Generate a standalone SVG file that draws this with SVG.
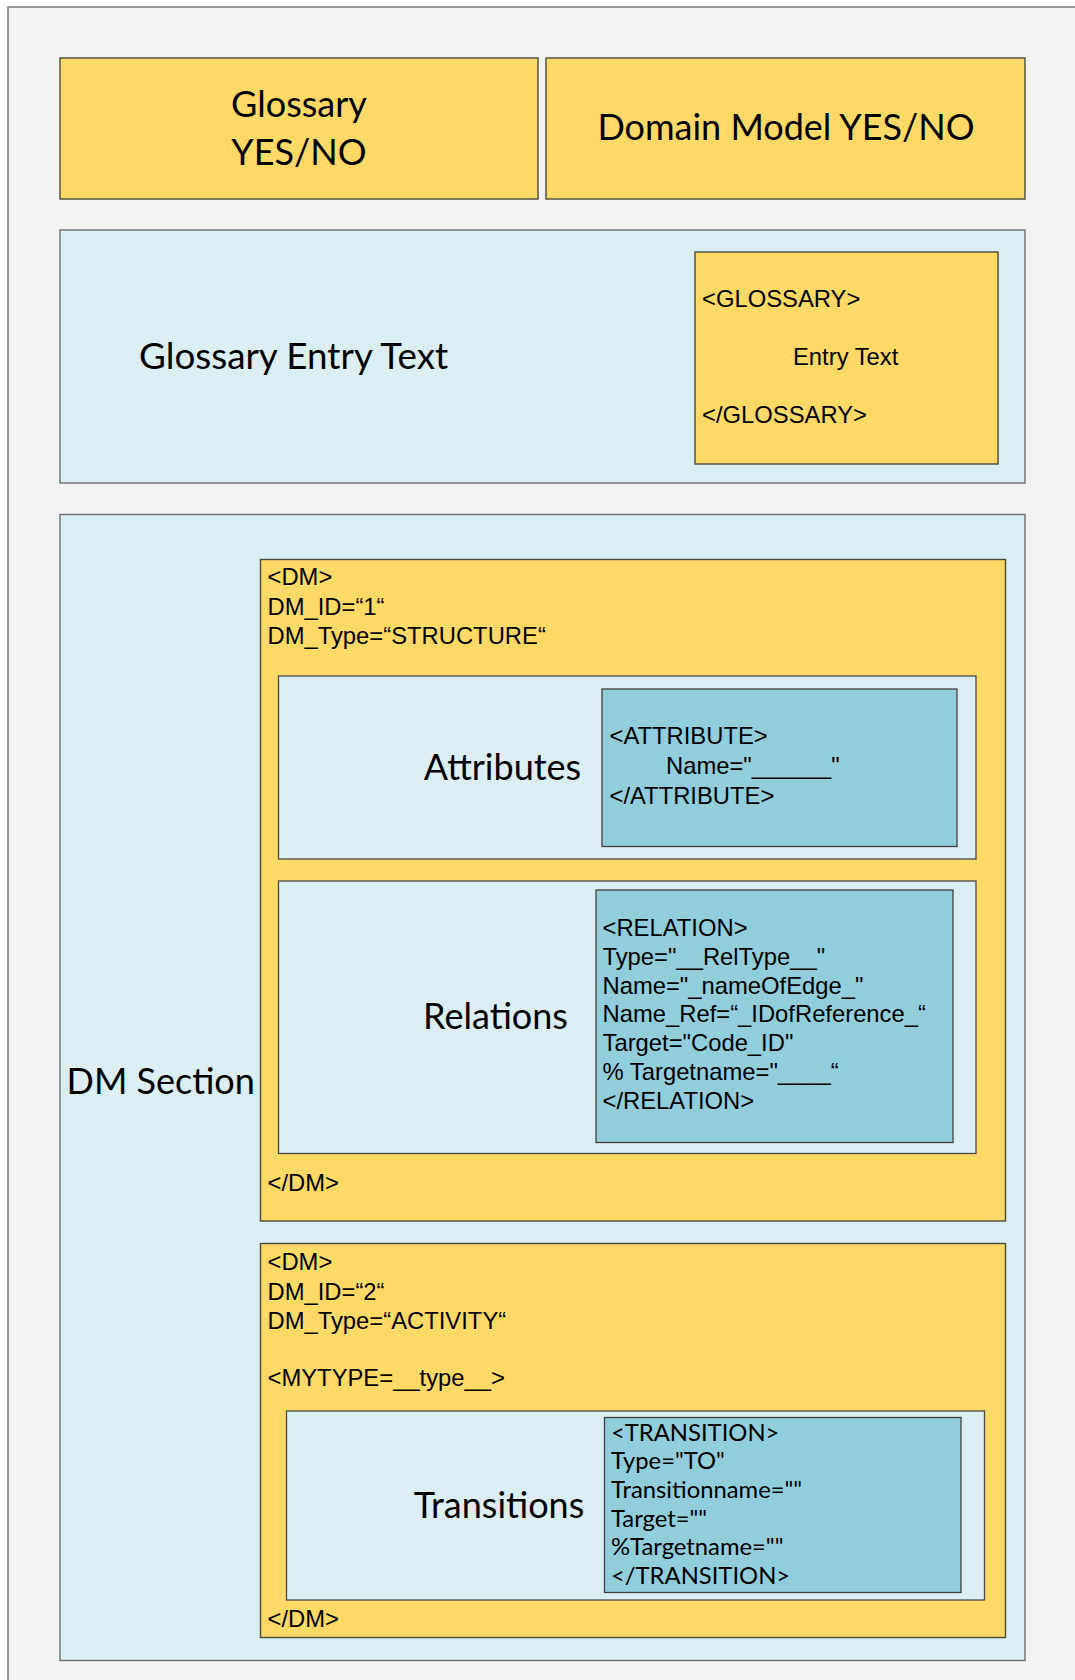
<svg xmlns="http://www.w3.org/2000/svg" width="1075" height="1680" viewBox="0 0 1075 1680">
  <style>
    .gold { fill: #FFD966; stroke: #4a4a3c; stroke-width: 1.4; }
    .pale { fill: #DBEEF4; stroke: #6e6e6e; stroke-width: 1.4; }
    .pale-in { fill: #DBEEF4; stroke: #4a4a4a; stroke-width: 1.3; }
    .teal { fill: #92CDDC; stroke: #404040; stroke-width: 1.3; }
    .label { font-family: Lato, "Liberation Sans", sans-serif; font-size: 36px; fill: #000; }
    .tag { font-family: "Liberation Sans", Arial, sans-serif; font-size: 23.8px; fill: #000; }
    .tag2 { font-family: Lato, "Liberation Sans", sans-serif; font-size: 23.8px; fill: #000; }
  </style>

  <!-- page background and frame -->
  <rect x="0" y="0" width="1075" height="1680" fill="#FFFFFF"/>
  <rect x="8" y="7" width="1100" height="1700" fill="#F2F2F2" stroke="#808080" stroke-width="1.6"/>

  <!-- header switches -->
  <g id="glossary-switch">
    <rect class="gold" x="60" y="58" width="478" height="141"/>
    <text class="label" x="299" y="116.5" text-anchor="middle">Glossary</text>
    <text class="label" x="299" y="164.5" text-anchor="middle">YES/NO</text>
  </g>
  <g id="domain-model-switch">
    <rect class="gold" x="546" y="58" width="479" height="141"/>
    <text class="label" x="786" y="140" text-anchor="middle">Domain Model YES/NO</text>
  </g>

  <!-- glossary entry section -->
  <g id="glossary-section">
    <rect class="pale" x="60" y="230" width="965" height="253"/>
    <text class="label" x="139" y="368.5" style="font-size:36.8px">Glossary Entry Text</text>
  </g>
  <g id="glossary-tag">
    <rect class="gold" x="695" y="252" width="303" height="212"/>
    <text class="tag" x="702" y="306.5">&lt;GLOSSARY&gt;</text>
    <text class="tag" x="793" y="365">Entry Text</text>
    <text class="tag" x="702" y="422.5">&lt;/GLOSSARY&gt;</text>
  </g>

  <!-- domain model section -->
  <g id="dm-section">
    <rect class="pale" x="60" y="514.5" width="965" height="1146"/>
    <text class="label" x="66.5" y="1093.5">DM Section</text>
  </g>

  <!-- structure model -->
  <g id="dm-structure">
    <rect class="gold" x="260.5" y="559.5" width="745" height="661.5"/>
    <text class="tag" x="267.5" y="585">&lt;DM&gt;</text>
    <text class="tag" x="267.5" y="615">DM_ID=“1“</text>
    <text class="tag" x="267.5" y="644">DM_Type=“STRUCTURE“</text>
    <text class="tag" x="267.5" y="1190.5">&lt;/DM&gt;</text>
  </g>
  <g id="attributes">
    <rect class="pale-in" x="278.5" y="676" width="697.5" height="183"/>
    <text class="label" x="502.5" y="779.5" text-anchor="middle">Attributes</text>
  </g>
  <g id="attribute-tag">
    <rect class="teal" x="602" y="689" width="355" height="157.5"/>
    <text class="tag" x="609.5" y="744">&lt;ATTRIBUTE&gt;</text>
    <text class="tag" x="666" y="773.5">Name="______"</text>
    <text class="tag" x="609.5" y="803.5">&lt;/ATTRIBUTE&gt;</text>
  </g>
  <g id="relations">
    <rect class="pale-in" x="278.5" y="881" width="697.5" height="272.5"/>
    <text class="label" x="495.5" y="1028.5" text-anchor="middle">Relations</text>
  </g>
  <g id="relation-tag">
    <rect class="teal" x="596" y="890" width="357" height="252.5"/>
    <text class="tag" x="602.5" y="935.7">&lt;RELATION&gt;</text>
    <text class="tag" x="602.5" y="964.6">Type="__RelType__"</text>
    <text class="tag" x="602.5" y="993.5">Name="_nameOfEdge_"</text>
    <text class="tag" x="602.5" y="1022.4">Name_Ref=“_IDofReference_“</text>
    <text class="tag" x="602.5" y="1051.3">Target="Code_ID"</text>
    <text class="tag" x="602.5" y="1080.2">% Targetname="____“</text>
    <text class="tag" x="602.5" y="1109.1">&lt;/RELATION&gt;</text>
  </g>

  <!-- activity model -->
  <g id="dm-activity">
    <rect class="gold" x="260.5" y="1243.5" width="745" height="394"/>
    <text class="tag" x="267.5" y="1269.5">&lt;DM&gt;</text>
    <text class="tag" x="267.5" y="1299.5">DM_ID=“2“</text>
    <text class="tag" x="267.5" y="1328.5">DM_Type=“ACTIVITY“</text>
    <text class="tag" x="267.5" y="1385.5">&lt;MYTYPE=__type__&gt;</text>
    <text class="tag" x="267.5" y="1626.5">&lt;/DM&gt;</text>
  </g>
  <g id="transitions">
    <rect class="pale-in" x="286.5" y="1411" width="698" height="189"/>
    <text class="label" x="499" y="1517.5" text-anchor="middle">Transitions</text>
  </g>
  <g id="transition-tag">
    <rect class="teal" x="604.5" y="1417.5" width="356.5" height="175"/>
    <text class="tag2" x="611" y="1440.5">&lt;TRANSITION&gt;</text>
    <text class="tag2" x="611" y="1469.3">Type="TO"</text>
    <text class="tag2" x="611" y="1497.8">Transitionname=""</text>
    <text class="tag2" x="611" y="1526.7">Target=""</text>
    <text class="tag2" x="611" y="1555.3">%Targetname=""</text>
    <text class="tag2" x="611" y="1584">&lt;/TRANSITION&gt;</text>
  </g>
</svg>
